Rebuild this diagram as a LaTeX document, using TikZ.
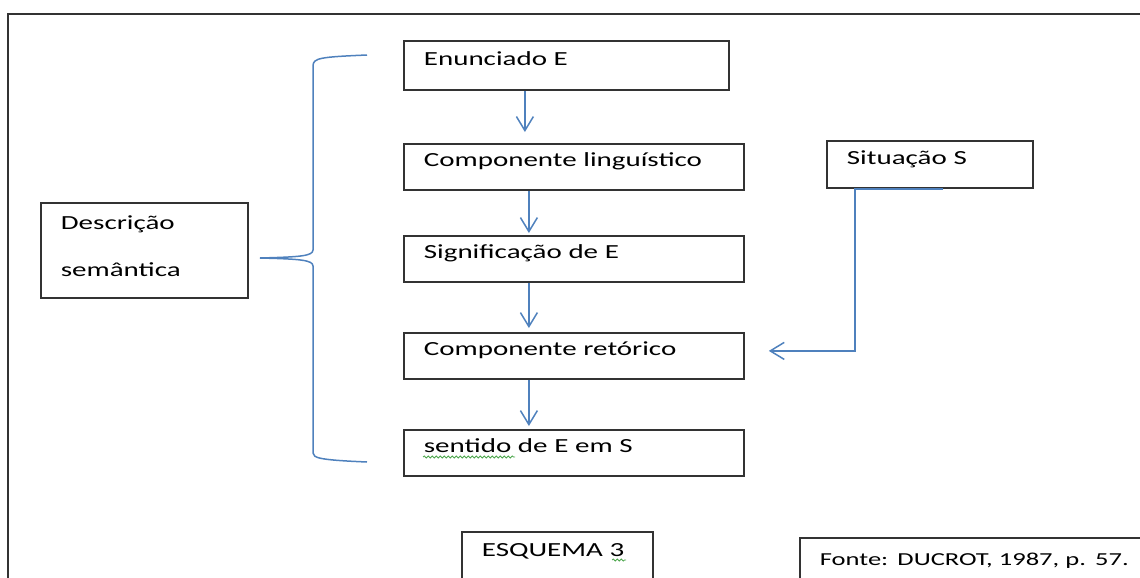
\documentclass[tikz,border=0pt]{standalone}
\usepackage{fontspec}
\setmainfont[FakeStretch=1.45]{Carlito}
\usetikzlibrary{arrows.meta,decorations.pathmorphing}
\definecolor{azul}{HTML}{4F81BD}
\definecolor{borda}{HTML}{333333}
\definecolor{verde}{HTML}{4CA64C}

\begin{document}
\begin{tikzpicture}[x=1pt, y=-1pt,
        caixa/.style={draw=borda, line width=1.8pt, anchor=north west, align=left,
            inner xsep=20pt, inner ysep=0pt, text height=12pt, text depth=12pt,
            font=\fontsize{20}{24}\selectfont},
        seta/.style={draw=azul, line width=1.5pt, -{Straight Barb[length=14pt,width=17pt]}},
        chave/.style={draw=azul, line width=1.5pt},
        sublinhado/.style={draw=verde, line width=0.8pt, decorate,
            decoration={snake, amplitude=1pt, segment length=4pt}}]
        \useasboundingbox (0,0) rectangle (1140,578);
        \clip (0,0) rectangle (1140,578);

        % Moldura
        \draw[borda, line width=2pt] (8,600) -- (8,14) -- (1160,14) -- (1160,600);

        % Coluna principal
        \node[caixa, text width=285pt, minimum height=49pt] (enun) at (403,40) {Enunciado E};
        \node[caixa, text width=300pt, minimum height=46pt] (comp) at (403,143) {Componente linguístico};
        \node[caixa, text width=300pt, minimum height=46pt] (sign) at (403,235) {Significação de E};
        \node[caixa, text width=300pt, minimum height=46pt] (reto) at (403,332) {Componente retórico};
        \node[caixa, text width=300pt, minimum height=46pt] (sent) at (403,429) {sentido de E em S};

        % Situação e descrição
        \node[caixa, text width=166pt, minimum height=47pt] (sit) at (826,140) {Situação S};
        \node[caixa, text width=167pt, minimum height=95pt, text height=12pt, text depth=53pt] (desc) at (40,202) {Descrição\\[23pt]semântica};

        % Esquema e fonte
        \node[caixa, text width=151pt, minimum height=50pt] (esq) at (461,531) {ESQUEMA 3};
        \node[caixa, text width=340pt, minimum height=56pt, font=\fontsize{18.3}{22}\selectfont] (fonte) at (799,537) {Fonte: DUCROT, 1987, p. 57.};

        % Setas da coluna
        \foreach \a/\b/\d/\s in {enun/comp/-41.5/11, comp/sign/-45/2, sign/reto/-45/4, reto/sent/-45/3} {
            \coordinate (p) at ([xshift=\d pt]\a.south);
            \draw[seta, shorten >=\s pt] (p) -- (p |- \b.north);
        }

        % Situação -> componente retórico
        \draw[seta] ([xshift=117pt]sit.south west) -- ([xshift=29pt]sit.south west)
            |- ([xshift=24pt, yshift=5pt]reto.east);

        % Chave
        \draw[chave] (367,55) .. controls (320,57) and (313,58) .. (313,66)
            -- (313,250) .. controls (313,256) and (300,257) .. (260,258)
            .. controls (300,259) and (313,260) .. (313,266)
            -- (313,453) .. controls (313,458) and (320,460) .. (367,462);

        % Sublinhados
        \draw[sublinhado] (423,457) -- (515,457);
        \draw[sublinhado] (612,560) -- (626,560);
    \end{tikzpicture}
\end{document}
